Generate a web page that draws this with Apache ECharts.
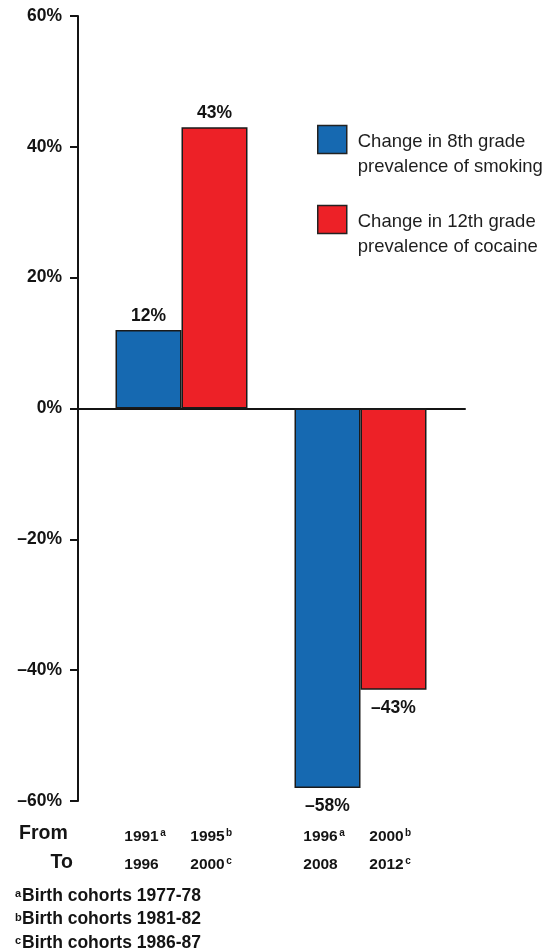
<!DOCTYPE html>
<html>
<head>
<meta charset="utf-8">
<script src="https://cdn.jsdelivr.net/npm/echarts@6/dist/echarts.min.js"></script>
<style>
html,body{margin:0;padding:0;background:#fff;}
#chart{width:550px;height:951px;}
</style>
</head>
<body>
<div id="chart"></div>
<script>
// ---- data ----
const periods = ['Earlier period', 'Later period'];
const smokingChange = [12, -58];   // change in 8th grade prevalence of smoking (%)
const cocaineChange = [43, -43];   // change in 12th grade prevalence of cocaine (%)
const smokingFrom = ['1991', '1996'];
const smokingFromSup = ['a', 'a'];
const smokingTo = ['1996', '2008'];
const smokingToSup = ['', ''];
const cocaineFrom = ['1995', '2000'];
const cocaineFromSup = ['b', 'b'];
const cocaineTo = ['2000', '2012'];
const cocaineToSup = ['c', 'c'];
const yTickValues = [-60, -40, -20, 0, 20, 40, 60];
const yTickLabels = ['–60%', '–40%', '–20%', '0%', '20%', '40%', '60%'];
const seriesNames = ['Change in 8th grade\nprevalence of smoking', 'Change in 12th grade\nprevalence of cocaine'];
const rowTitles = ['From', 'To'];
const cohortLetters = ['a', 'b', 'c'];
const cohortYears = ['1977-78', '1981-82', '1986-87'];

// ---- style ----
const FONT = '"Liberation Sans", Arial, Helvetica, sans-serif';
const INK = '#141414';
const BLUE = '#1669B1';
const RED = '#ED2127';

function pct(v) { return v < 0 ? '–' + (-v) + '%' : v + '%'; }

function barData(values) {
  return values.map(v => ({
    value: v,
    label: { position: v < 0 ? 'bottom' : 'top', distance: v < 0 ? 9 : 5 }
  }));
}

function yearCell(year, sup) {
  return '{g0|}{n|' + year + '}{s|' + sup + '}{g|}';
}

const chart = echarts.init(document.getElementById('chart'), null, { renderer: 'canvas' });

const valueLabel = {
  show: true,
  formatter: p => pct(p.value),
  fontFamily: FONT,
  fontWeight: 'bold',
  fontSize: 17.5,
  color: INK
};

const option = {
  backgroundColor: '#ffffff',
  animation: false,
  textStyle: { fontFamily: FONT },
  grid: [
    { left: 92, right: 100, top: 16, bottom: 150 },
    { left: 78, right: 85, top: 16, bottom: 150 }
  ],
  xAxis: [
    {
      gridIndex: 0,
      type: 'category',
      data: periods,
      position: 'bottom',
      axisLine: { show: false, onZero: false },
      axisTick: { show: false },
      splitLine: { show: false },
      axisLabel: {
        interval: 0,
        margin: 22,
        formatter: function (value, i) {
          return yearCell(smokingFrom[i], smokingFromSup[i]) + yearCell(cocaineFrom[i], cocaineFromSup[i]) + '\n' +
                 yearCell(smokingTo[i], smokingToSup[i]) + yearCell(cocaineTo[i], cocaineToSup[i]);
        },
        rich: {
          g0: { width: 8, lineHeight: 28 },
          n: { width: 36, fontFamily: FONT, fontWeight: 'bold', fontSize: 15.5, color: INK, lineHeight: 28 },
          s: { width: 7, height: 21, fontFamily: FONT, fontWeight: 'bold', fontSize: 10, color: INK, lineHeight: 12, verticalAlign: 'top' },
          g: { width: 15, lineHeight: 28 }
        }
      }
    },
    {
      gridIndex: 1,
      type: 'category',
      data: [''],
      axisLine: { show: true, onZero: true, lineStyle: { color: INK, width: 2 } },
      axisTick: { show: false },
      axisLabel: { show: false },
      splitLine: { show: false }
    }
  ],
  yAxis: [
    {
      gridIndex: 0,
      type: 'value',
      min: -60,
      max: 60,
      interval: 20,
      offset: 14,
      axisLine: { show: true, lineStyle: { color: INK, width: 2 } },
      axisTick: { show: true, length: 8, lineStyle: { color: INK, width: 2 } },
      splitLine: { show: false },
      axisLabel: {
        margin: 16,
        fontFamily: FONT,
        fontWeight: 'bold',
        fontSize: 17.5,
        color: INK,
        formatter: v => yTickLabels[yTickValues.indexOf(v)]
      }
    },
    {
      gridIndex: 1,
      type: 'value',
      min: -60,
      max: 60,
      show: false
    }
  ],
  legend: {
    orient: 'vertical',
    left: 317,
    top: 100,
    padding: 0,
    itemGap: 1,
    itemWidth: 29,
    itemHeight: 28,
    icon: 'rect',
    selectedMode: false,
    itemStyle: { borderColor: '#222', borderWidth: 1.5 },
    formatter: name => name.split('\n').map(l => '{t|' + l + '}').join('\n'),
    textStyle: {
      fontFamily: FONT,
      fontSize: 18.5,
      color: '#1e1e1e',
      lineHeight: 25,
      padding: [29, 0, 0, 6],
      rich: {
        t: { fontFamily: FONT, fontSize: 18.5, color: '#1e1e1e', lineHeight: 25 }
      }
    },
    data: seriesNames
  },
  series: [
    {
      name: seriesNames[0],
      type: 'bar',
      xAxisIndex: 0,
      yAxisIndex: 0,
      data: barData(smokingChange),
      barWidth: 66,
      barGap: '0%',
      itemStyle: { color: BLUE, borderColor: '#1a1a1a', borderWidth: 1.5 },
      label: valueLabel
    },
    {
      name: seriesNames[1],
      type: 'bar',
      xAxisIndex: 0,
      yAxisIndex: 0,
      data: barData(cocaineChange),
      barWidth: 66,
      barGap: '0%',
      itemStyle: { color: RED, borderColor: '#1a1a1a', borderWidth: 1.5 },
      label: valueLabel
    }
  ],
  graphic: [
    {
      type: 'text', x: 19, y: 834,
      style: { text: rowTitles[0], align: 'left', verticalAlign: 'middle', fill: INK,
               font: 'bold 19.5px ' + FONT }
    },
    {
      type: 'text', x: 73, y: 863,
      style: { text: rowTitles[1], align: 'right', verticalAlign: 'middle', fill: INK,
               font: 'bold 19.5px ' + FONT }
    },
    {
      type: 'text', x: 15, y: 884,
      style: {
        text: cohortLetters.map((l, i) => '{s|' + l + '}{t|Birth cohorts ' + cohortYears[i] + '}').join('\n'),
        align: 'left',
        verticalAlign: 'top',
        rich: {
          s: { fontFamily: FONT, fontWeight: 'bold', fontSize: 11, fill: INK, height: 20, lineHeight: 12, verticalAlign: 'top', width: 7 },
          t: { fontFamily: FONT, fontWeight: 'bold', fontSize: 17.5, fill: INK, lineHeight: 23.5 }
        }
      }
    }
  ]
};

chart.setOption(option);
</script>
</body>
</html>
